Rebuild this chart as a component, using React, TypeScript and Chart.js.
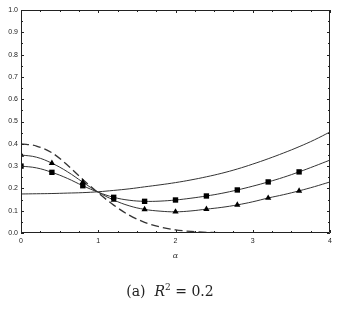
import React, { useEffect, useRef } from "react";
import { Chart, registerables } from "chart.js";

Chart.register(...registerables);

const alphaValues = [0, 0.2, 0.4, 0.6, 0.8, 1.0, 1.2, 1.4, 1.6, 1.8, 2.0, 2.2, 2.4, 2.6, 2.8, 3.0, 3.2, 3.4, 3.6, 3.8, 4.0];
const solidSeries = [0.175, 0.176, 0.177, 0.179, 0.181, 0.185, 0.191, 0.198, 0.207, 0.216, 0.226, 0.238, 0.252, 0.268, 0.287, 0.309, 0.333, 0.359, 0.387, 0.418, 0.453];
const squareSeries = [0.300, 0.292, 0.272, 0.245, 0.212, 0.183, 0.160, 0.147, 0.142, 0.143, 0.148, 0.156, 0.166, 0.178, 0.193, 0.210, 0.229, 0.250, 0.274, 0.300, 0.327];
const triangleSeries = [0.350, 0.340, 0.313, 0.275, 0.228, 0.183, 0.148, 0.122, 0.106, 0.098, 0.095, 0.099, 0.107, 0.115, 0.126, 0.140, 0.157, 0.172, 0.189, 0.208, 0.229];
const dashedSeries = [0.400, 0.390, 0.360, 0.305, 0.240, 0.180, 0.125, 0.080, 0.048, 0.027, 0.014, 0.007, 0.003, 0.001, 0, 0, 0, 0, 0, 0, 0];
const captionLabel = "(a)";
const captionVar = "R";
const captionSup = "2";
const captionRest = "= 0.2";
const xAxisLabel = "\u03B1";

const toPoints = (ys: number[]) => alphaValues.map((x, i) => ({ x, y: ys[i] }));
const isMarker = (ctx: any) => ctx.dataIndex % 2 === 0 && ctx.dataIndex < alphaValues.length - 1;

const frameTicks = {
  id: "frameTicks",
  afterDraw(chart: any) {
    const { ctx, chartArea: a, scales } = chart;
    const xs = scales.x;
    const ys = scales.y;
    ctx.save();
    ctx.strokeStyle = "#222";
    ctx.lineWidth = 1;
    ctx.beginPath();
    ctx.rect(a.left + 0.5, a.top + 0.5, a.right - a.left - 1, a.bottom - a.top - 1);
    ctx.stroke();
    ctx.beginPath();
    for (let i = 0; i <= 16; i++) {
      const v = i * 0.25;
      const px = Math.round(xs.getPixelForValue(v)) + 0.5;
      const len = i % 4 === 0 ? 3 : 2;
      ctx.moveTo(px, a.bottom);
      ctx.lineTo(px, a.bottom - len);
      ctx.moveTo(px, a.top);
      ctx.lineTo(px, a.top + len);
    }
    for (let i = 0; i <= 20; i++) {
      const v = i * 0.05;
      const py = Math.round(ys.getPixelForValue(v)) + 0.5;
      const len = i % 2 === 0 ? 3 : 2;
      ctx.moveTo(a.left, py);
      ctx.lineTo(a.left + len, py);
      ctx.moveTo(a.right, py);
      ctx.lineTo(a.right - len, py);
    }
    ctx.stroke();
    ctx.restore();
  },
};

export default function App() {
  const ref = useRef<HTMLCanvasElement | null>(null);
  useEffect(() => {
    document.body.style.margin = "0";
    const canvas = ref.current;
    if (!canvas) return;
    const lineColor = "#333";
    const chart = new Chart(canvas, {
      type: "line",
      data: {
        datasets: [
          {
            label: "solid",
            data: toPoints(solidSeries),
            borderColor: lineColor,
            borderWidth: 1,
            pointRadius: 0,
            tension: 0.4,
            fill: false,
          },
          {
            label: "squares",
            data: toPoints(squareSeries),
            borderColor: lineColor,
            borderWidth: 1,
            pointStyle: "rect",
            pointRadius: (ctx: any) => (isMarker(ctx) ? 3.8 : 0),
            pointBackgroundColor: "#000",
            pointBorderColor: "#000",
            pointBorderWidth: 0,
            tension: 0.4,
            fill: false,
          },
          {
            label: "triangles",
            data: toPoints(triangleSeries),
            borderColor: lineColor,
            borderWidth: 1,
            pointStyle: "triangle",
            pointRadius: (ctx: any) => (isMarker(ctx) ? 3.6 : 0),
            pointBackgroundColor: "#000",
            pointBorderColor: "#000",
            pointBorderWidth: 0,
            tension: 0.4,
            fill: false,
          },
          {
            label: "dashed",
            data: toPoints(dashedSeries),
            borderColor: lineColor,
            borderWidth: 1.3,
            borderDash: [8, 4],
            pointRadius: 0,
            tension: 0.4,
            cubicInterpolationMode: "monotone",
            fill: false,
          },
        ],
      },
      options: {
        animation: false,
        responsive: false,
        maintainAspectRatio: false,
        layout: { padding: { top: 10, right: 10, left: 0, bottom: 311 - 233 - 28 } },
        plugins: {
          legend: { display: false },
          tooltip: { enabled: false },
        },
        scales: {
          x: {
            type: "linear",
            min: 0,
            max: 4,
            ticks: {
              stepSize: 1,
              color: "#222",
              font: { family: "'Liberation Sans', Arial, sans-serif", size: 7 },
              padding: 4,
              maxRotation: 0,
            },
            grid: { display: false, drawTicks: false },
            border: { display: false },
            title: {
              display: true,
              text: xAxisLabel,
              color: "#333",
              font: { family: "'DejaVu Serif', serif", size: 8, style: "italic" },
              padding: { top: 4, bottom: 0 },
            },
            afterFit: (s: any) => {
              s.height = 28;
            },
          },
          y: {
            min: 0,
            max: 1,
            ticks: {
              stepSize: 0.1,
              color: "#222",
              font: { family: "'Liberation Sans', Arial, sans-serif", size: 7 },
              padding: 3,
              callback: (v: any) => Number(v).toFixed(1),
            },
            grid: { display: false, drawTicks: false },
            border: { display: false },
            afterFit: (s: any) => {
              s.width = 21;
            },
          },
        },
      },
      plugins: [frameTicks],
    });
    return () => chart.destroy();
  }, []);
  return (
    <div style={{ position: "absolute", left: 0, top: 0, width: 340, height: 311, background: "#fff" }}>
      <canvas ref={ref} width={340} height={311} style={{ width: 340, height: 311, display: "block" }} />
      <div
        style={{
          position: "absolute",
          left: 0,
          width: 340,
          top: 282,
          textAlign: "center",
          fontFamily: "'DejaVu Serif', 'Liberation Serif', serif",
          fontSize: 14,
          color: "#222",
          lineHeight: "18px",
          whiteSpace: "pre",
        }}
      >
        {captionLabel}{"  "}
        <i>{captionVar}</i>
        <sup style={{ fontSize: 9, verticalAlign: "6px", lineHeight: 0 }}>{captionSup}</sup>
        {" "}{captionRest}
      </div>
    </div>
  );
}
